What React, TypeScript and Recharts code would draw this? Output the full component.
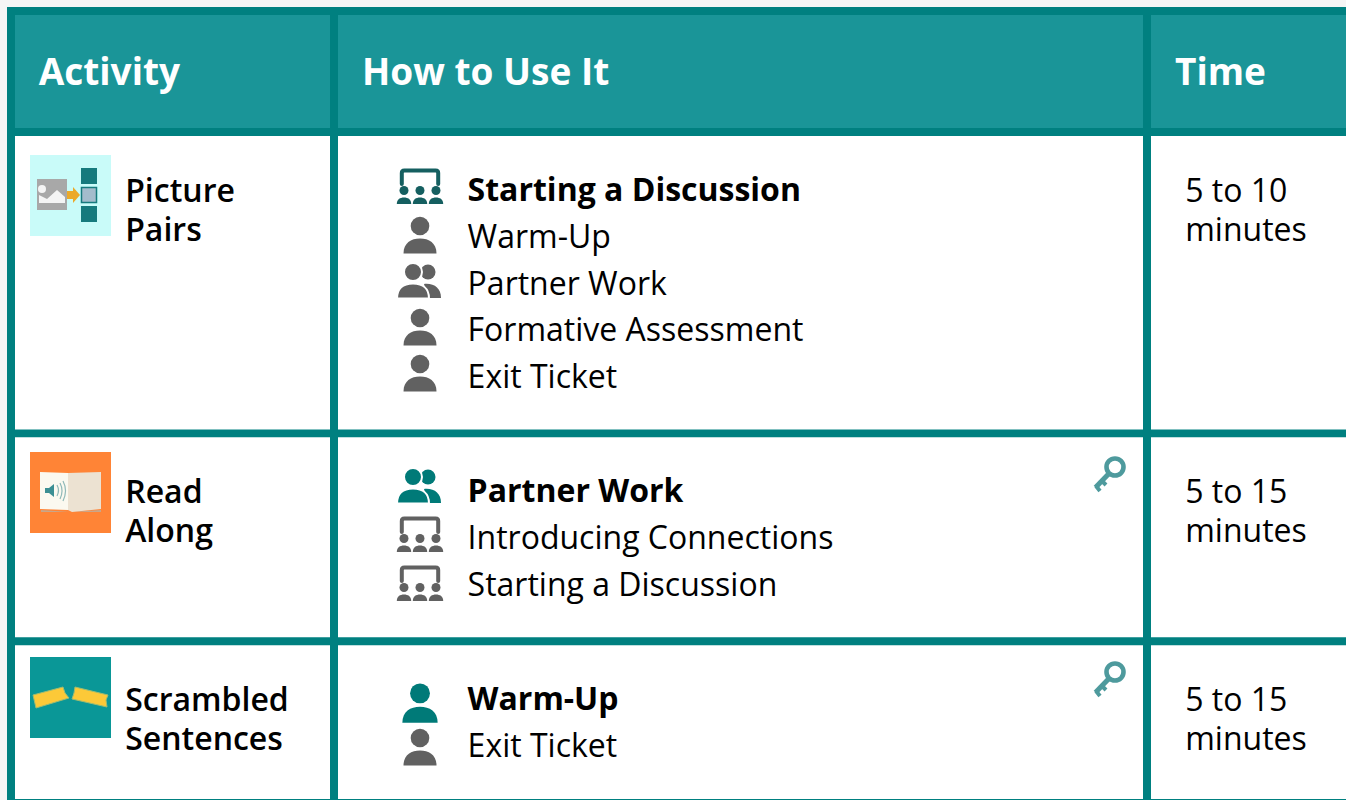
import React from "react";
import { ScatterChart, Scatter, XAxis, YAxis, ReferenceArea } from "recharts";

const W = 1346;
const H = 800;
const TEAL = "#008080";
const HEAD = "#1a9598";
const GREY = "#616161";
const FONT = "'Open Sans', sans-serif";

const headers = ["Activity", "How to Use It", "Time"];
const activities = [["Picture", "Pairs"], ["Read", "Along"], ["Scrambled", "Sentences"]];
const times = [["5 to 10", "minutes"], ["5 to 15", "minutes"], ["5 to 15", "minutes"]];
const uses = [
  ["Starting a Discussion", "Warm-Up", "Partner Work", "Formative Assessment", "Exit Ticket"],
  ["Partner Work", "Introducing Connections", "Starting a Discussion"],
  ["Warm-Up", "Exit Ticket"],
];
const useIcons = [
  ["group", "person", "partner", "person", "person"],
  ["partner", "group", "group"],
  ["person", "person"],
];
const thumbKinds = ["pairs", "book", "tickets"];
const hasKey = [false, true, true];

// layout
const colX = [38.7, 362, 1175];
const rowTops = [136, 437, 645];
const thumbTops = [155, 452, 657];
const iconYs = [[187, 235, 281, 327, 373], [486, 535, 584], [703, 747]];
const keyYs = [0, 475, 680];
const LH = 46.5;

const cells: [number, number, number, number, string][] = [
  [15, 15, 330, 128, HEAD],
  [338, 15, 1143, 128, HEAD],
  [1151, 15, W, 128, HEAD],
  [15, 136, 330, 429.6, "#fff"],
  [338, 136, 1143, 429.6, "#fff"],
  [1151, 136, W, 429.6, "#fff"],
  [15, 437.3, 330, 637.3, "#fff"],
  [338, 437.3, 1143, 637.3, "#fff"],
  [1151, 437.3, W, 637.3, "#fff"],
  [15, 645.2, 330, 799, "#fff"],
  [338, 645.2, 1143, 799, "#fff"],
  [1151, 645.2, W, 799, "#fff"],
];

type T = { x: number; y: number; text: string; size: number; weight: number; fill: string };
const texts: T[] = [];
headers.forEach((h, i) => texts.push({ x: colX[i], y: 85, text: h, size: 37, weight: 700, fill: "#fff" }));
activities.forEach((lines, r) =>
  lines.forEach((t, i) =>
    texts.push({ x: 125.2, y: rowTops[r] + 65.6 + i * 39, text: t, size: 32, weight: 600, fill: "#000" })
  )
);
times.forEach((lines, r) =>
  lines.forEach((t, i) =>
    texts.push({ x: 1185.2, y: rowTops[r] + 65.6 + i * 39, text: t, size: 32, weight: 400, fill: "#000" })
  )
);
uses.forEach((lines, r) =>
  lines.forEach((t, i) =>
    texts.push({
      x: 467.6,
      y: rowTops[r] + (i === 0 ? 64.6 : 65.6) + i * LH,
      text: t,
      size: 32,
      weight: i === 0 ? 700 : 400,
      fill: "#000",
    })
  )
);

const icons: { x: number; y: number; kind: string; first: boolean; row: number }[] = [];
useIcons.forEach((lines, r) =>
  lines.forEach((k, i) => icons.push({ x: 420, y: iconYs[r][i], kind: k, first: i === 0, row: r }))
);
const thumbs = thumbKinds.map((k, r) => ({ x: 70.5, y: thumbTops[r] + 40.5, kind: k }));
const keys = hasKey.map((k, r) => ({ x: 1109, y: keyYs[r], show: k })).filter((k) => k.show);

const TextShape = (p: any) => {
  const d = p.payload;
  return (
    <text x={p.cx} y={p.cy} fontFamily={FONT} fontSize={d.size} fontWeight={d.weight} fill={d.fill}>
      {d.text}
    </text>
  );
};

const Person = ({ c, big }: { c: string; big: boolean }) => {
  const s = big ? 1.07 : 1;
  return (
    <g transform={`scale(${s})`} fill={c}>
      <circle cx={0} cy={-9} r={9.3} />
      <path d="M-16.5 18.5 C-16.5 8 -9 3.5 0 3.5 C9 3.5 16.5 8 16.5 18.5 Z" />
    </g>
  );
};

const Partner = ({ c }: { c: string }) => (
  <g fill={c}>
    <circle cx={8} cy={-9} r={7.5} />
    <path d="M4 3 C14 2 21 7 21 17 L8 17 Z" />
    <circle cx={-7} cy={-9} r={9} stroke="#fff" strokeWidth={2} />
    <path d="M-23 17.5 C-23 7 -16 2.5 -7 2.5 C2 2.5 9 7 9 17.5 Z" stroke="#fff" strokeWidth={2} />
  </g>
);

const Group = ({ c, bar }: { c: string; bar: string }) => (
  <g>
    <path
      d="M-18.2 -3 L-18.2 -14 Q-18.2 -16.5 -15.7 -16.5 L15.7 -16.5 Q18.2 -16.5 18.2 -14 L18.2 -3"
      fill="none"
      stroke={bar}
      strokeWidth={4}
      strokeLinecap="round"
    />
    {[-16, 0, 16].map((dx) => (
      <g key={dx} fill={c}>
        <circle cx={dx} cy={3.5} r={4.5} />
        <path d={`M${dx - 7.2} 17 C${dx - 7.2} 12.5 ${dx - 4} 10.5 ${dx} 10.5 C${dx + 4} 10.5 ${dx + 7.2} 12.5 ${dx + 7.2} 17 Z`} />
      </g>
    ))}
  </g>
);

const IconShape = (p: any) => {
  const d = p.payload;
  const c = d.first ? (d.kind === "group" ? "#155f60" : "#007a78") : GREY;
  return (
    <g transform={`translate(${p.cx},${p.cy})`}>
      {d.kind === "person" && <Person c={c} big={d.first} />}
      {d.kind === "partner" && <Partner c={c} />}
      {d.kind === "group" && <Group c={c} bar={d.first ? "#155f60" : GREY} />}
    </g>
  );
};

const KeyShape = (p: any) => (
  <g transform={`translate(${p.cx},${p.cy})`} stroke="#4e9a9d" fill="none">
    <circle cx={6} cy={-8} r={8.5} strokeWidth={4.6} />
    <path d="M0 -1.5 L-13.5 12.5" strokeWidth={5} />
    <path d="M-13 11 L-9 16 M-7.5 5.5 L-3 10" strokeWidth={4} />
  </g>
);

const ThumbShape = (p: any) => {
  const k = p.payload.kind;
  return (
    <g transform={`translate(${p.cx - 40.5},${p.cy - 40.5})`}>
      <defs>
        <filter id={`soft-${k}`} x="-5%" y="-5%" width="110%" height="110%">
          <feGaussianBlur stdDeviation={0.7} />
        </filter>
      </defs>
      {k === "pairs" && (
        <g>
          <rect width={81} height={81} fill="#c9fbf9" />
          <g filter={`url(#soft-${k})`}>
            <rect x={7} y={24} width={30} height={31} fill="#a8a8a8" />
            <path d="M9 48 L9 40 L17 44 L27 35 L35 42 L35 48 Z" fill="#f4f4f4" />
            <circle cx={12} cy={34} r={4} fill="#f4f4f4" />
            <path d="M37 36 L43 36 L43 32 L50 40 L43 48 L43 44 L37 44 Z" fill="#eba92a" />
            <rect x={51} y={13} width={16} height={16} fill="#157a7d" />
            <rect x={51.5} y={32.5} width={15} height={15} fill="#a4bccc" stroke="#157a7d" strokeWidth={1.5} />
            <rect x={51} y={51} width={16} height={16} fill="#157a7d" />
          </g>
        </g>
      )}
      {k === "book" && (
        <g>
          <rect width={81} height={81} fill="#ff8436" />
          <g filter={`url(#soft-${k})`}>
            <path d="M11 58 L39 60 L42 60 L71 58 L71 60 L11 60 Z" fill="#c9a68a" />
            <path d="M10 20 L38 21 L38 58 L10 57 Z" fill="#fbf9f0" />
            <path d="M38 21 L71 20 L71 57 L42 60 L38 58 Z" fill="#ece2d2" />
            <path d="M15 36 L19 36 L24 32 L24 45 L19 41 L15 41 Z" fill="#3b8f93" />
            <path d="M27 33 Q30 38.5 27 44 M30 31 Q34 38.5 30 47 M33 29 Q38 38.5 33 49" fill="none" stroke="#8fb9b8" strokeWidth={1.2} />
          </g>
        </g>
      )}
      {k === "tickets" && (
        <g>
          <rect width={81} height={81} fill="#0a9797" />
          <g filter={`url(#soft-${k})`}>
            <path d="M3 38 L33 30 L35 36 L39 41 L6 51 Z" fill="#fcc938" stroke="#9dbb72" strokeWidth={1} />
            <path d="M45 30 L78 38 L76 43 L77 50 L42 42 L44 36 Z" fill="#fcc938" stroke="#9dbb72" strokeWidth={1} />
          </g>
        </g>
      )}
    </g>
  );
};

export default function App() {
  return (
    <div style={{ position: "absolute", left: 0, top: 0, width: W, height: H, background: "#f5f5f5" }}>
      <ScatterChart width={W} height={H} margin={{ top: 0, right: 0, bottom: 0, left: 0 }}>
        <XAxis type="number" dataKey="x" domain={[0, W]} hide />
        <YAxis type="number" dataKey="y" domain={[0, H]} reversed hide />
        <ReferenceArea x1={7} x2={W} y1={7} y2={H} fill={TEAL} fillOpacity={1} stroke="none" />
        {cells.map(([a, b, c, d, f], i) => (
          <ReferenceArea key={i} x1={a} x2={c} y1={b} y2={d} fill={f} fillOpacity={1} stroke="none" />
        ))}
        <Scatter data={thumbs} shape={ThumbShape} isAnimationActive={false} />
        <Scatter data={icons} shape={IconShape} isAnimationActive={false} />
        <Scatter data={keys} shape={KeyShape} isAnimationActive={false} />
        <Scatter data={texts} shape={TextShape} isAnimationActive={false} />
      </ScatterChart>
    </div>
  );
}
